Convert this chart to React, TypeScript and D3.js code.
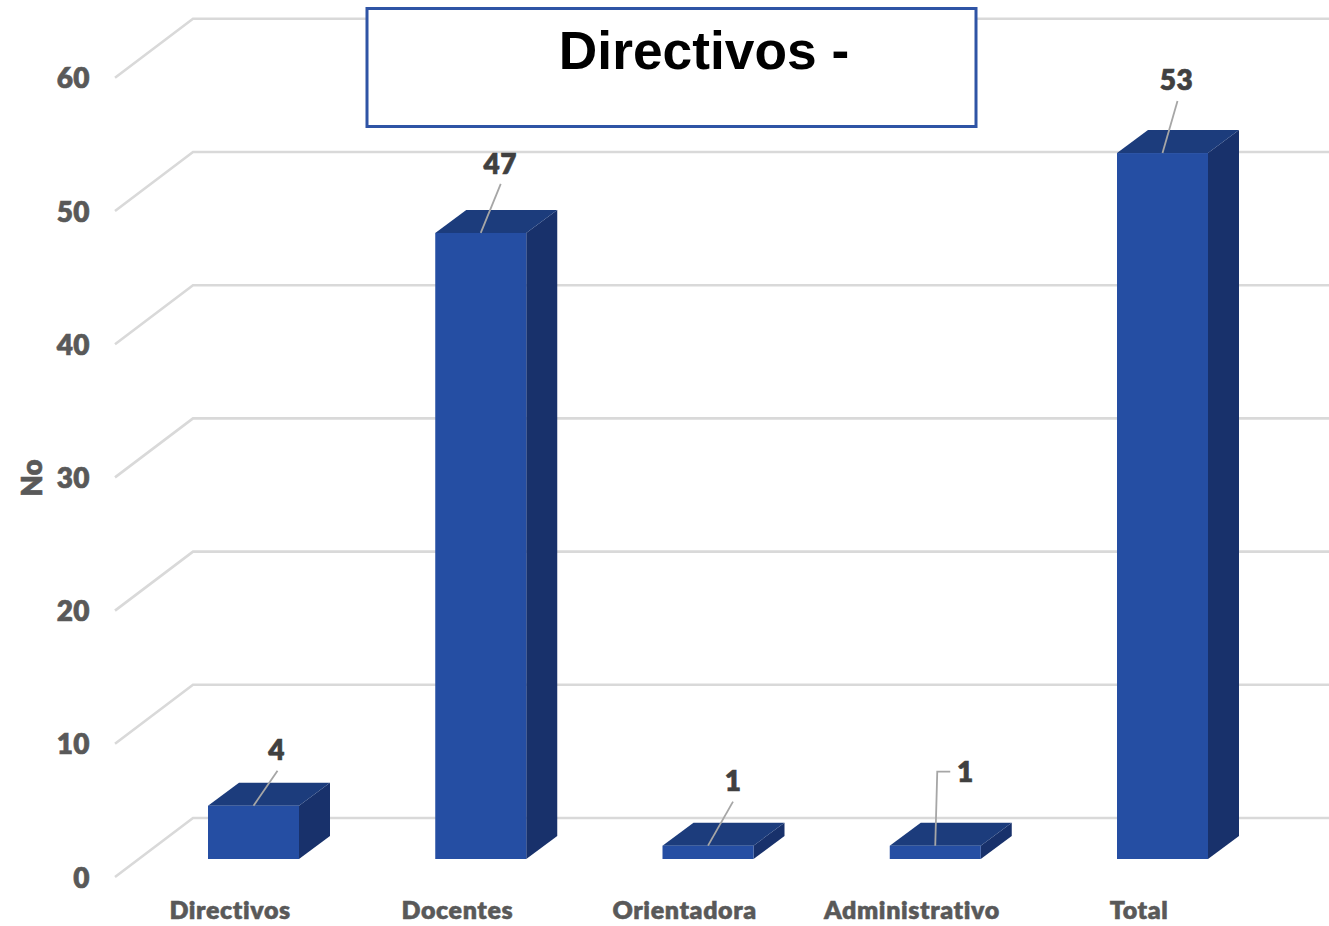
import React from "react";
import * as d3 from "d3";

const categories = ["Directivos", "Docentes", "Orientadora", "Administrativo", "Total"];
const values = [4, 47, 1, 1, 53];
const yTicks = [0, 10, 20, 30, 40, 50, 60];
const titleText = "Directivos -";
const yAxisTitle = "No";

const W = 1329;
const H = 926;
const FONT = "Lato, 'Open Sans', sans-serif";

const band = d3.scaleBand<string>().domain(categories).range([116.5, 1252.75]).paddingInner(0).paddingOuter(0);
const barW = 91;
const barOffset = 91.5;
const yFront = d3.scaleLinear().domain([0, 60]).range([859, 59.8]);
const wallDx = 78;
const wallDy = 59;
const barDx = 31;
const barDy = 23;
const wallX0 = 115;
const yWallFront = (v: number) => yFront(v) + 18;
const yWallBack = (v: number) => yWallFront(v) - wallDy;

// leader lines: offsets from the middle of the bar's front top edge
const leaders: { pts: [number, number][]; label: [number, number] }[] = [
  { pts: [[0, 0], [24, -35]], label: [23, -56] },
  { pts: [[0, 0], [20, -49]], label: [19.5, -69.5] },
  { pts: [[0, 0], [25, -44]], label: [25, -64.5] },
  { pts: [[0, 0], [2, -74], [15, -74]], label: [30, -73.5] },
  { pts: [[0, 0], [15, -52]], label: [14, -73] },
];

export default function App() {
  const line = d3.line();
  return (
    <svg
      width={W}
      height={H}
      viewBox={`0 0 ${W} ${H}`}
      style={{ position: "absolute", left: 0, top: 0, background: "#fff", display: "block" }}
    >
      {yTicks.map((t) => (
        <g key={t}>
          <path
            d={line([
              [wallX0, yWallFront(t)],
              [wallX0 + wallDx, yWallBack(t)],
              [W, yWallBack(t)],
            ]) ?? ""}
            fill="none"
            stroke="#d9d9d9"
            strokeWidth={2.6}
          />
          <text
            x={90}
            y={yWallFront(t) + 0.5}
            dy="0.36em"
            textAnchor="end"
            fontFamily={FONT}
            fontWeight={800}
            fontSize={28}
            letterSpacing={0.4}
            stroke="#595959"
            strokeWidth={0.6}
            fill="#595959"
          >
            {t}
          </text>
        </g>
      ))}

      {categories.map((c, i) => {
        const x0 = (band(c) ?? 0) + barOffset;
        const x1 = x0 + barW;
        const yTop = yFront(values[i]);
        const yBase = yFront(0);
        const side = line([
          [x1, yTop],
          [x1 + barDx, yTop - barDy],
          [x1 + barDx, yBase - barDy],
          [x1, yBase],
        ]) + "Z";
        const top = line([
          [x0, yTop],
          [x0 + barDx, yTop - barDy],
          [x1 + barDx, yTop - barDy],
          [x1, yTop],
        ]) + "Z";
        return (
          <g key={c}>
            <path d={side} fill="#18316b" />
            <path d={top} fill="#1c3c7c" />
            <rect x={x0} y={yTop} width={barW} height={yBase - yTop} fill="#254ea3" />
          </g>
        );
      })}

      {categories.map((c, i) => {
        const cx = (band(c) ?? 0) + barOffset + barW / 2;
        const yTop = yFront(values[i]);
        const l = leaders[i];
        return (
          <g key={c}>
            <path
              d={line(l.pts.map(([dx, dy]) => [cx + dx, yTop + dy] as [number, number])) ?? ""}
              fill="none"
              stroke="#a6a6a6"
              strokeWidth={1.8}
            />
            <text
              x={cx + l.label[0]}
              y={yTop + l.label[1]}
              dy="0.36em"
              textAnchor="middle"
              fontFamily={FONT}
              fontWeight={800}
              fontSize={28}
              letterSpacing={0.4}
              stroke="#404040"
              strokeWidth={0.6}
              fill="#404040"
            >
              {values[i]}
            </text>
            <text
              x={(band(c) ?? 0) + band.bandwidth() / 2}
              y={910}
              dy="0.36em"
              textAnchor="middle"
              fontFamily={FONT}
              fontWeight={800}
              fontSize={25}
              letterSpacing={0.6}
              stroke="#595959"
              strokeWidth={0.5}
              fill="#595959"
            >
              {c}
            </text>
          </g>
        );
      })}

      <text
        transform="translate(32,478) rotate(-90)"
        dy="0.36em"
        textAnchor="middle"
        fontFamily={FONT}
        fontWeight={800}
        fontSize={28}
        stroke="#595959"
        strokeWidth={0.6}
        fill="#595959"
      >
        {yAxisTitle}
      </text>

      <rect x={367} y={8.5} width={609} height={118} fill="#fff" stroke="#2f54a5" strokeWidth={3} />
      <text
        x={704}
        y={50}
        dy="0.36em"
        textAnchor="middle"
        fontFamily="'Liberation Sans', Arial, sans-serif"
        fontWeight={700}
        fontSize={53.3}
        fill="#000"
      >
        {titleText}
      </text>
    </svg>
  );
}
